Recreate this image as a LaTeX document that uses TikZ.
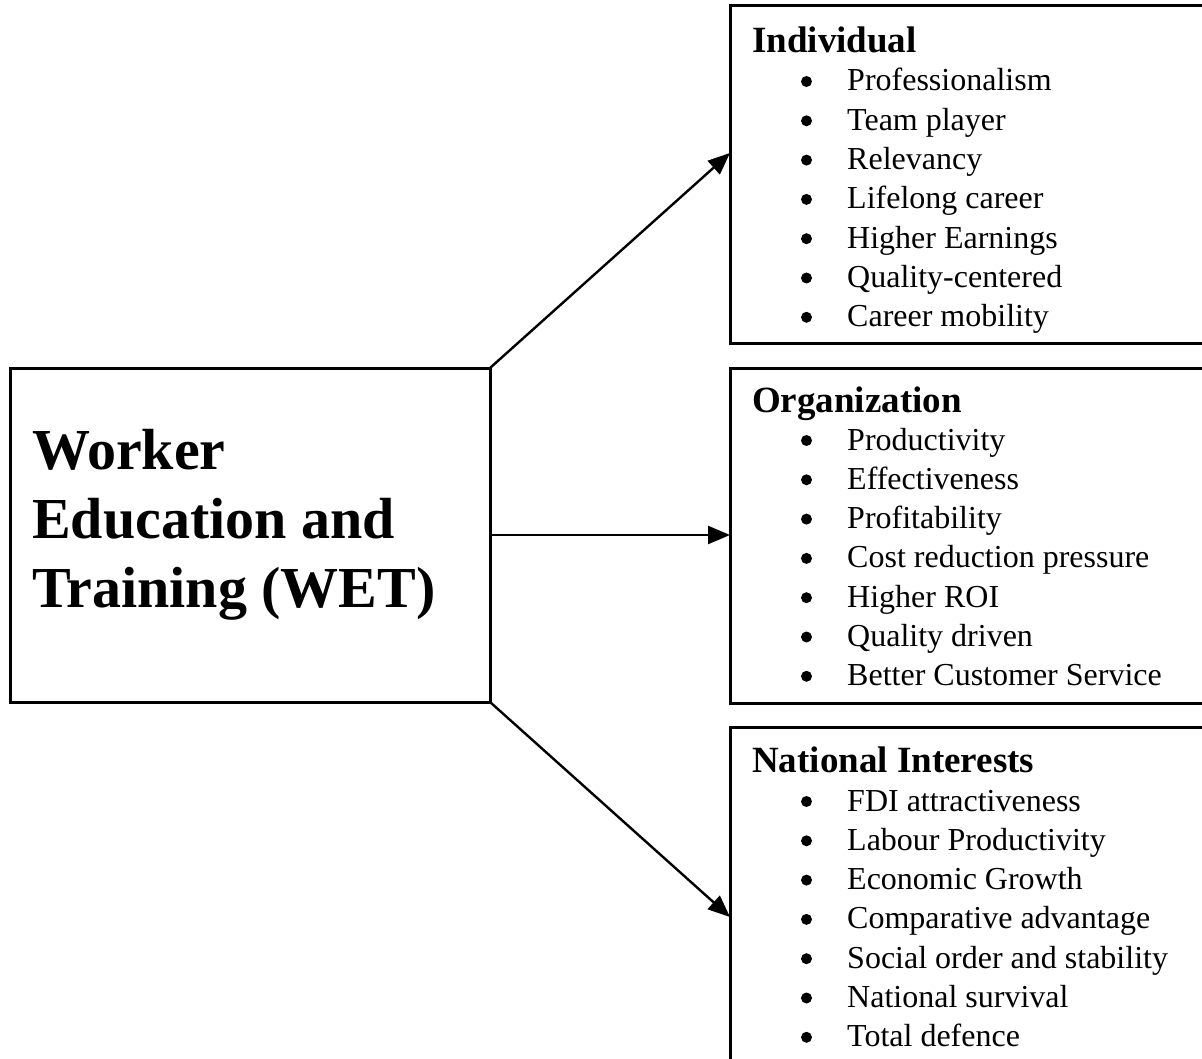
\documentclass[tikz,border=0pt]{standalone}
\usepackage{fontspec}
\setmainfont{Liberation Serif}
\usetikzlibrary{arrows.meta}

\tikzset{
  frame/.style={draw, line width=3pt, inner sep=0pt, outer sep=0pt},
  title/.style={anchor=base west, inner sep=0pt, font=\bfseries\fontsize{58}{69}\selectfont},
  head/.style={anchor=base west, inner sep=0pt, font=\bfseries\fontsize{37}{44}\selectfont},
  entry/.style={anchor=base west, inner sep=0pt, font=\fontsize{32}{39}\selectfont},
  dot/.style={circle, fill, inner sep=0pt, minimum size=11pt},
  arr/.style={line width=2.4pt, -{Triangle[length=22pt,width=18pt]}}
}

\begin{document}
\begin{tikzpicture}[x=1pt, y=-1pt]
  \path[use as bounding box, clip] (0,0) rectangle (1202,1059);
  \fill[white] (0,0) rectangle (1202,1059);

  % central block
  \node[frame, minimum width=480pt, minimum height=334pt] (wet) at (250,535) {};
  \node[title] (w1) at (32,469) {Worker};
  \node[title] (w2) at (32,538) {Education and};
  \node[title] (w3) at (32,607) {Training (WET)};

  % outcome blocks (their right sides run past the page edge)
  \node[frame, minimum width=490pt, minimum height=337pt] (ind) at (975,174.5) {};
  \node[frame, minimum width=490pt, minimum height=335pt] (org) at (975,535.5) {};
  \node[frame, minimum width=490pt, minimum height=360pt] (nat) at (975,907) {};

  \node[head] (hind) at (752,53) {Individual};
  \node[head] (horg) at (752,412) {Organization};
  \node[head] (hnat) at (752,772) {National Interests};

  \foreach [count=\i] \t in {Professionalism, Team player, Relevancy, Lifelong career,
      Higher Earnings, Quality-centered, Career mobility} {
    \node[dot] (bi\i) at (806.5, {91+(\i-1)*39.3-9.5}) {};
    \node[entry] (ei\i) at (847, {91+(\i-1)*39.3}) {\t};
  }
  \foreach [count=\i] \t in {Productivity, Effectiveness, Profitability, Cost reduction pressure,
      Higher ROI, Quality driven, Better Customer Service} {
    \node[dot] (bo\i) at (806.5, {450+(\i-1)*39.3-9.5}) {};
    \node[entry] (eo\i) at (847, {450+(\i-1)*39.3}) {\t};
  }
  \foreach [count=\i] \t in {FDI attractiveness, Labour Productivity, Economic Growth,
      Comparative advantage, Social order and stability, National survival, Total defence} {
    \node[dot] (bn\i) at (806.5, {811+(\i-1)*39.3-9.5}) {};
    \node[entry] (en\i) at (847, {811+(\i-1)*39.3}) {\t};
  }

  % connectors
  \coordinate (ti) at (ind.west |- 0,153);
  \coordinate (tn) at (nat.west |- 0,917);
  \draw[arr] (wet.north east) -- (ti);
  \draw[arr] (wet.east) -- (org.west |- wet.east);
  \draw[arr] (wet.south east) -- (tn);
\end{tikzpicture}
\end{document}
